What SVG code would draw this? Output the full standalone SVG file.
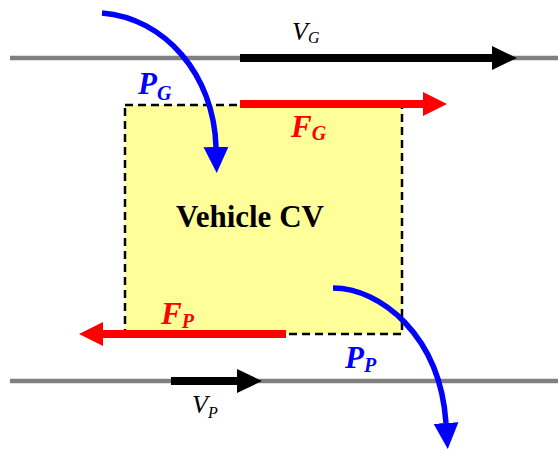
<svg xmlns="http://www.w3.org/2000/svg" width="558" height="450" viewBox="0 0 558 450">
<style>
.road{stroke:#808080;stroke-width:4.5;fill:none}
.blk{stroke:#000;stroke-width:8;fill:none}
.red{stroke:#f00;stroke-width:8;fill:none}
.blue{stroke:#00f;stroke-width:5.5;fill:none}
.lbl{font-family:"Liberation Serif","Times New Roman",serif;font-style:italic}
.big{font-weight:bold;font-size:31px}
.vel{font-size:26px;fill:#000}
</style>
<defs>
<marker id="hBlack" markerUnits="userSpaceOnUse" markerWidth="26" markerHeight="26" viewBox="0 -13 26 26" refX="0" refY="0" orient="auto"><path d="M0,-12 L25,0 L0,12 Z" fill="#000"/></marker>
<marker id="hRed" markerUnits="userSpaceOnUse" markerWidth="26" markerHeight="26" viewBox="0 -13 26 26" refX="0" refY="0" orient="auto"><path d="M0,-12 L24,0 L0,12 Z" fill="#f00"/></marker>
<marker id="hBlue" markerUnits="userSpaceOnUse" markerWidth="27" markerHeight="26" viewBox="0 -13 27 26" refX="0" refY="0" orient="auto"><path d="M0,-12.5 L26,0 L0,12.5 Z" fill="#00f"/></marker>
</defs>
<g id="cv">
<rect x="125" y="105" width="277" height="229" fill="#ffff99" stroke="#000" stroke-width="2.5" stroke-dasharray="8,5"/>
<text x="250" y="227" text-anchor="middle" font-family="'Liberation Serif','Times New Roman',serif" font-weight="bold" font-size="31">Vehicle CV</text>
</g>
<g id="roads">
<line class="road" x1="10" y1="58" x2="558" y2="58"/>
<line class="road" x1="10" y1="381" x2="558" y2="381"/>
</g>
<g id="connectors">
<line id="vg" class="blk" x1="240" y1="58" x2="492" y2="58" marker-end="url(#hBlack)"/>
<line id="vp" class="blk" x1="171" y1="381" x2="237" y2="381" marker-end="url(#hBlack)"/>
<line id="fg" class="red" x1="240" y1="104" x2="423" y2="104" marker-end="url(#hRed)"/>
<line id="fp" class="red" x1="286" y1="334" x2="103" y2="334" marker-end="url(#hRed)"/>
<path id="pg" class="blue" d="M102,13 C165,18 214,75 216,147" marker-end="url(#hBlue)"/>
<path id="pp" class="blue" d="M333,288 C380,288 440,335 446,423" marker-end="url(#hBlue)"/>
</g>
<g id="labels" class="lbl">
<text x="292" y="40" class="vel">V<tspan font-size="16" dy="3">G</tspan></text>
<text x="192" y="413" class="vel">V<tspan font-size="16" dy="5">P</tspan></text>
<text x="138" y="94" class="big" fill="#00f">P<tspan font-size="20" dy="6">G</tspan></text>
<text x="291" y="137" class="big" fill="#f00">F<tspan font-size="20" dy="3">G</tspan></text>
<text x="161" y="324" class="big" fill="#f00">F<tspan font-size="20" dy="4">P</tspan></text>
<text x="345" y="368" class="big" fill="#00f">P<tspan font-size="20" dy="4">P</tspan></text>
</g>
</svg>
